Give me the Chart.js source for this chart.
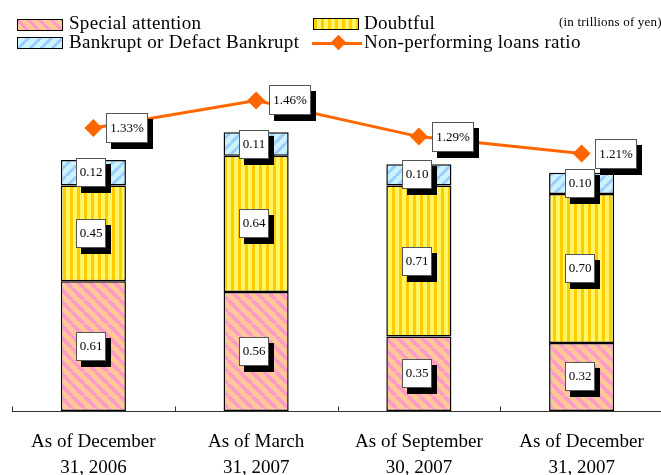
<!DOCTYPE html>
<html>
<head>
<meta charset="utf-8">
<script src="https://cdn.jsdelivr.net/npm/chart.js@4/dist/chart.umd.min.js"></script>
<style>
html, body { margin: 0; padding: 0; background: #fff; overflow: hidden; }
#wrap { position: relative; width: 661px; height: 475px; overflow: hidden; background: #fff; }
#chart { position: absolute; left: 0; top: 0; }
.lg { position: absolute; font-family: 'Liberation Serif', serif; font-size: 19px; line-height: 19px; letter-spacing: 0.3px; color: #000; white-space: nowrap; }
.sw { position: absolute; width: 44px; height: 10px; border: 1.5px solid #000; }
.sw-special { background: repeating-linear-gradient(45deg, #FFC896 0 5px, #FF99CC 5px 8px); }
.sw-doubt { background: repeating-linear-gradient(90deg, #FFCC00 0 3px, #FFF566 3px 7px); }
.sw-bank { background: repeating-linear-gradient(-45deg, #CCF2FF 0 5px, #99CCFF 5px 8px); }
.lg-line { position: absolute; left: 312px; top: 41.5px; width: 50px; height: 3px; background: #FF6600; }
.lg-dia { position: absolute; left: 333px; top: 37px; width: 11px; height: 11px; background: #FF6600; transform: rotate(45deg); }
.unit { position: absolute; left: 559px; top: 15px; font-family: 'Liberation Serif', serif; font-size: 13px; line-height: 13px; letter-spacing: 0.2px; white-space: nowrap; }
</style>
</head>
<body>
<div id="wrap">
    <canvas id="chart" width="672" height="499"></canvas>

    <div class="sw sw-special" style="left:17px; top:19px;"></div>
    <div class="lg" style="left:69px; top:13px;">Special attention</div>
    <div class="sw sw-bank" style="left:17px; top:37px;"></div>
    <div class="lg" style="left:69px; top:31.5px;">Bankrupt or Defact Bankrupt</div>

    <div class="sw sw-doubt" style="left:313px; top:18px;"></div>
    <div class="lg" style="left:364px; top:13px;">Doubtful</div>
    <div class="lg-line"></div>
    <div class="lg-dia"></div>
    <div class="lg" style="left:364px; top:31.5px;">Non-performing loans ratio</div>

    <div class="unit">(in trillions of yen)</div>
</div>

<script>
// ========== DATA ==========
const categories = [
    ['As of December', '31, 2006'],
    ['As of March', '31, 2007'],
    ['As of September', '30, 2007'],
    ['As of December', '31, 2007']
];
const specialAttention = [0.61, 0.56, 0.35, 0.32];
const doubtful = [0.45, 0.64, 0.71, 0.70];
const bankrupt = [0.12, 0.11, 0.10, 0.10];
const nplRatio = [1.33, 1.46, 1.29, 1.21];

// ========== PATTERNS ==========
function makePattern(kind) {
    const c = document.createElement('canvas');
    const g = c.getContext('2d');
    if (kind === 'special') {
        const s = 12;
        c.width = s; c.height = s;
        g.fillStyle = '#FFC896';
        g.fillRect(0, 0, s, s);
        g.strokeStyle = '#FF99CC';
        g.lineWidth = 3.5;
        [-s, 0, s].forEach(o => {
            g.beginPath();
            g.moveTo(o, 0);
            g.lineTo(o + s, s);
            g.stroke();
        });
    } else if (kind === 'doubt') {
        c.width = 7; c.height = 7;
        g.fillStyle = '#FFF566';
        g.fillRect(0, 0, 7, 7);
        g.fillStyle = '#FFCC00';
        g.fillRect(0, 0, 3, 7);
    } else {
        const s = 11;
        c.width = s; c.height = s;
        g.fillStyle = '#CCF2FF';
        g.fillRect(0, 0, s, s);
        g.strokeStyle = '#99CCFF';
        g.lineWidth = 3;
        [-s, 0, s].forEach(o => {
            g.beginPath();
            g.moveTo(o, s);
            g.lineTo(o + s, 0);
            g.stroke();
        });
    }
    return g.createPattern(c, 'repeat');
}

// ========== LABEL BOXES ==========
function drawBox(ctx, x, y, w, h, text, baseOff) {
    ctx.fillStyle = '#000';
    ctx.fillRect(x + 5, y + 6, w, h);
    ctx.fillStyle = '#fff';
    ctx.fillRect(x, y, w, h);
    ctx.strokeStyle = '#555';
    ctx.lineWidth = 1;
    ctx.strokeRect(x + 0.5, y + 0.5, w - 1, h - 1);
    ctx.fillStyle = '#000';
    ctx.fillText(text, x + w / 2, y + baseOff);
}

const boxLabels = {
    id: 'boxLabels',
    afterDatasetsDraw(chart) {
        const ctx = chart.ctx;
        ctx.save();
        ctx.font = '13px "Liberation Serif"';
        ctx.textAlign = 'center';
        ctx.textBaseline = 'alphabetic';
        chart.data.datasets.forEach((ds, i) => {
            const meta = chart.getDatasetMeta(i);
            meta.data.forEach((el, j) => {
                const v = ds.data[j];
                if (ds.type === 'line') {
                    drawBox(ctx, Math.round(el.x + 13), Math.round(el.y - 15), 42, 30, v.toFixed(2) + '%', 19);
                } else {
                    const cy = (el.y + el.base) / 2;
                    drawBox(ctx, Math.round(el.x - 17), Math.round(cy - 14.5), 30, 29, v.toFixed(2), 17.5);
                }
            });
        });
        ctx.restore();
    }
};

// ========== AXIS LINE ==========
const baseAxis = {
    id: 'baseAxis',
    beforeDatasetsDraw(chart) {
        const ctx = chart.ctx;
        const xs = chart.scales.x;
        const area = chart.chartArea;
        const step = xs.getPixelForValue(1) - xs.getPixelForValue(0);
        const y = Math.round(area.bottom) + 0.5;
        ctx.save();
        ctx.strokeStyle = '#333';
        ctx.lineWidth = 1;
        ctx.beginPath();
        ctx.moveTo(area.left, y);
        ctx.lineTo(area.right, y);
        for (let i = 0; i <= categories.length; i++) {
            const bx = Math.round(xs.getPixelForValue(i) - step / 2) + 0.5;
            ctx.moveTo(bx, y);
            ctx.lineTo(bx, y - 5);
        }
        ctx.stroke();
        ctx.restore();
    }
};

// ========== CHART ==========
const barCommon = {
    type: 'bar',
    borderColor: '#000',
    borderWidth: 1.5,
    borderSkipped: false,
    barPercentage: 1,
    categoryPercentage: 0.4,
    yAxisID: 'y',
    order: 1
};

new Chart(document.getElementById('chart').getContext('2d'), {
    data: {
        labels: categories,
        datasets: [
            Object.assign({}, barCommon, { label: 'Special attention', data: specialAttention, backgroundColor: makePattern('special') }),
            Object.assign({}, barCommon, { label: 'Doubtful', data: doubtful, backgroundColor: makePattern('doubt') }),
            Object.assign({}, barCommon, { label: 'Bankrupt or Defact Bankrupt', data: bankrupt, backgroundColor: makePattern('bank') }),
            {
                type: 'line',
                label: 'Non-performing loans ratio',
                data: nplRatio,
                yAxisID: 'y1',
                borderColor: '#FF6600',
                borderWidth: 3,
                tension: 0,
                pointStyle: 'rectRot',
                pointRadius: 9,
                pointBackgroundColor: '#FF6600',
                pointBorderColor: '#FF6600',
                pointBorderWidth: 0,
                order: 0
            }
        ]
    },
    options: {
        responsive: false,
        animation: false,
        layout: { padding: { left: 12, right: 3, top: 60, bottom: 0 } },
        plugins: {
            legend: { display: false },
            tooltip: { enabled: false }
        },
        scales: {
            x: {
                stacked: true,
                offset: true,
                grid: { display: false, drawTicks: false },
                border: { display: false },
                ticks: {
                    color: '#000',
                    font: { family: 'Liberation Serif', size: 19, lineHeight: 1.42 },
                    padding: 17,
                    maxRotation: 0,
                    autoSkip: false
                }
            },
            y: { stacked: true, display: false, min: 0, max: 1.65 },
            y1: { display: false, min: 0, max: 1.65 }
        }
    },
    plugins: [baseAxis, boxLabels]
});
</script>
</body>
</html>
